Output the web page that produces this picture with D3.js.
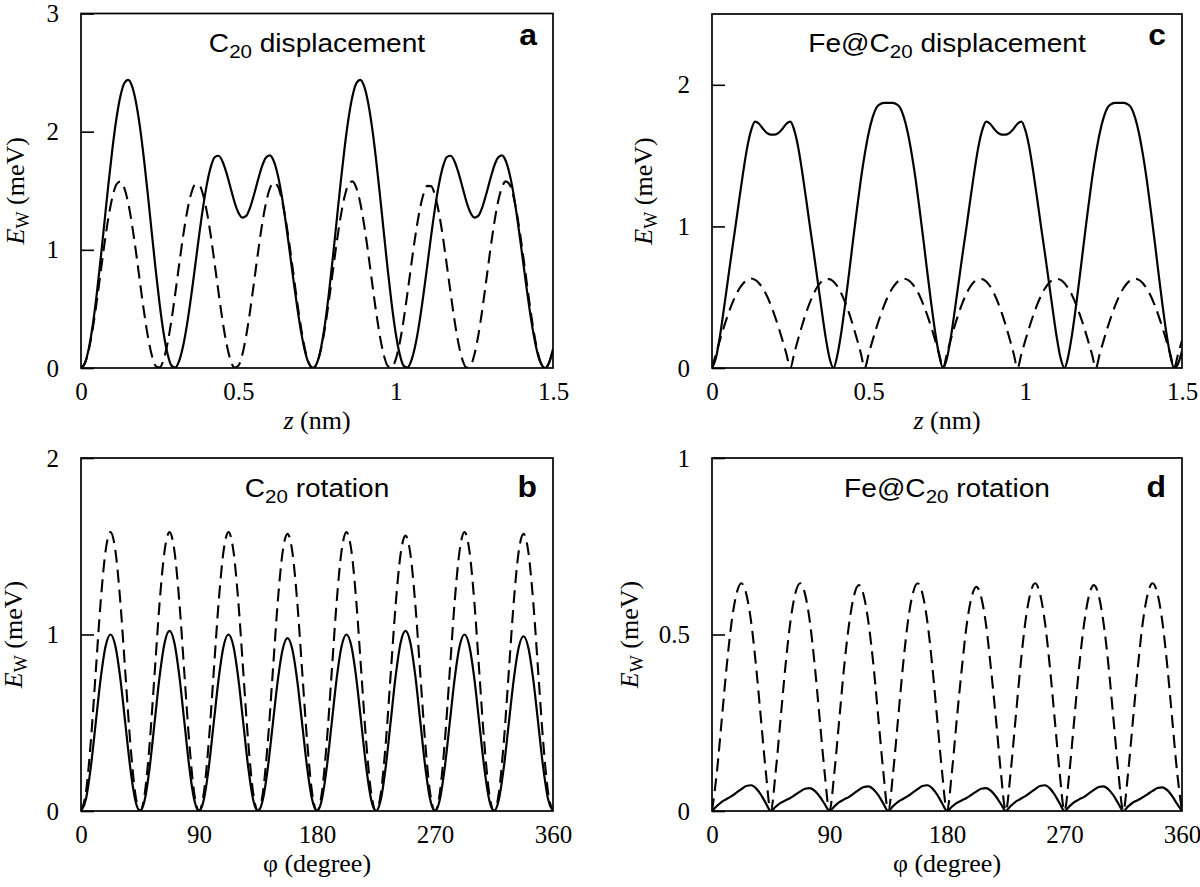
<!DOCTYPE html>
<html><head><meta charset="utf-8">
<script src="https://cdn.jsdelivr.net/npm/d3@7"></script>
<style>body{margin:0;background:#fff}</style>
</head><body>
<svg id="chart" width="1200" height="887"></svg>
<script>
// ---------- DATA ----------
const zTicks = [0, 0.5, 1, 1.5];
const zTickLabels = ["0", "0.5", "1", "1.5"];
const phiTicks = [0, 90, 180, 270, 360];
const phiTickLabels = ["0", "90", "180", "270", "360"];
const aYTicks = [0, 1, 2, 3];
const cYTicks = [0, 1, 2];
const bYTicks = [0, 1, 2];
const dYTicks = [0, 0.5, 1];
const dYTickLabels = ["0", "0.5", "1"];

// z sampling grid (nm), step 0.0125 ; phi sampling grid (degree), step 3.75
const zGrid = d3.range(121).map(i => i * 0.0125);
const phiGrid = d3.range(97).map(i => i * 3.75);

// Panel a : C20 displacement
const aSolid = [
0,0.043,0.168,0.366,0.625,0.925,1.246,1.564,1.859,2.109,
2.297,2.410,2.439,2.383,2.245,2.036,1.770,1.465,1.143,0.827,
0.538,0.296,0.120,0.020,0.004,0.064,0.192,0.378,0.606,0.858,
1.115,1.353,1.554,1.702,1.785,1.796,1.746,1.649,1.528,1.407,
1.315,1.272,1.287,1.358,1.468,1.592,1.705,1.779,1.799,1.752,
1.637,1.465,1.246,1.000,0.747,0.507,0.297,0.134,0.033,0,
0.043,0.168,0.366,0.625,0.925,1.246,1.564,1.859,2.109,2.297,
2.410,2.439,2.383,2.245,2.036,1.770,1.465,1.143,0.827,0.538,
0.296,0.120,0.020,0.004,0.064,0.192,0.378,0.606,0.858,1.115,
1.353,1.554,1.702,1.785,1.796,1.746,1.649,1.528,1.407,1.315,
1.272,1.287,1.358,1.468,1.592,1.705,1.779,1.799,1.752,1.637,
1.465,1.246,1.000,0.747,0.507,0.297,0.134,0.033,0,
0.045,0.16];
const aDashed = [
0,0.040,0.156,0.336,0.562,0.812,1.059,1.279,1.449,1.553,
1.579,1.525,1.397,1.207,0.976,0.725,0.481,0.268,0.108,0.017,
0.005,0.071,0.209,0.405,0.639,0.887,1.124,1.327,1.474,1.551,
1.549,1.470,1.321,1.117,0.879,0.631,0.398,0.204,0.068,0.004,
0.019,0.112,0.273,0.485,0.728,0.977,1.207,1.393,1.518,1.569,
1.540,1.435,1.264,1.045,0.798,0.551,0.328,0.150,0.037,0,
0.040,0.156,0.336,0.562,0.812,1.059,1.279,1.449,1.553,1.579,
1.525,1.397,1.207,0.976,0.725,0.481,0.268,0.108,0.017,
0.005,0.071,0.208,0.402,0.635,0.881,1.117,1.318,1.464,1.541,
1.539,1.461,1.313,1.110,0.873,0.627,0.395,0.202,0.067,0.004,
0.019,0.112,0.274,0.488,0.733,0.984,1.214,1.402,1.528,1.579,
1.550,1.444,1.272,1.051,0.803,0.555,0.330,0.151,0.037,0,
0.043,0.156];

// Panel c : Fe@C20 displacement
const cSolid = [
0,0.07,0.22,0.41,0.61,0.81,1.00,1.20,1.39,1.56,1.68,1.74,1.725,1.69,1.66,1.648,
1.648,1.66,1.69,1.725,1.74,1.68,1.56,1.39,1.20,1.00,0.81,0.61,0.41,0.22,0.07,0,
0.09,0.25,0.45,0.67,0.90,1.12,1.33,1.51,1.66,1.77,1.84,1.865,1.872,1.873,
1.872,1.865,1.84,1.77,1.66,1.51,1.33,1.12,0.90,0.67,0.45,0.25,0.09,0,
0.07,0.22,0.41,0.61,0.81,1.00,1.20,1.39,1.56,1.68,1.74,1.725,1.69,1.66,1.648,
1.648,1.66,1.69,1.725,1.74,1.68,1.56,1.39,1.20,1.00,0.81,0.61,0.41,0.22,0.07,0,
0.09,0.25,0.45,0.67,0.90,1.12,1.33,1.51,1.66,1.77,1.84,1.865,1.872,1.873,
1.872,1.865,1.84,1.77,1.66,1.51,1.33,1.12,0.90,0.67,0.45,0.25,0.09,0,
0.03,0.12];
const cDashed = [
0,
0.099,0.195,0.286,0.370,0.445,0.510,0.561,0.599,0.622,0.632,0.622,0.599,0.561,0.510,0.445,0.370,0.286,0.195,0.099,0,
0.104,0.205,0.300,0.387,0.463,0.527,0.577,0.611,0.628,0.628,0.611,0.577,0.527,0.463,0.387,0.300,0.205,0.104,0,
0.099,0.195,0.286,0.370,0.445,0.510,0.561,0.599,0.622,0.630,0.622,0.599,0.561,0.510,0.445,0.370,0.286,0.195,0.099,0,
0.104,0.205,0.300,0.387,0.463,0.527,0.577,0.611,0.628,0.628,0.611,0.577,0.527,0.463,0.387,0.300,0.205,0.104,0,
0.099,0.195,0.286,0.370,0.445,0.510,0.561,0.599,0.622,0.630,0.622,0.599,0.561,0.510,0.445,0.370,0.286,0.195,0.099,0,
0.099,0.195,0.286,0.370,0.445,0.510,0.561,0.599,0.622,0.630,0.622,0.599,0.561,0.510,0.445,0.370,0.286,0.195,0.099,0,
0.099,0.195];

// Panel b : C20 rotation
const bSolid = [
0,0.067,0.25,0.50,0.75,0.933,1.000,0.933,0.75,0.50,0.25,0.067,
0,0.068,0.255,0.51,0.765,0.952,1.020,0.952,0.765,0.51,0.255,0.068,
0,0.067,0.25,0.50,0.75,0.933,1.000,0.933,0.75,0.50,0.25,0.067,
0,0.066,0.245,0.49,0.735,0.914,0.980,0.914,0.735,0.49,0.245,0.066,
0,0.067,0.25,0.50,0.75,0.933,1.000,0.933,0.75,0.50,0.25,0.067,
0,0.068,0.255,0.51,0.765,0.952,1.020,0.952,0.765,0.51,0.255,0.068,
0,0.067,0.25,0.50,0.75,0.933,1.000,0.933,0.75,0.50,0.25,0.067,
0,0.066,0.248,0.495,0.742,0.924,0.990,0.924,0.742,0.495,0.248,0.066,
0];
const bDashed = [
0,0.106,0.395,0.79,1.185,1.474,1.58,1.474,1.185,0.79,0.395,0.106,
0,0.106,0.395,0.79,1.185,1.474,1.58,1.474,1.185,0.79,0.395,0.106,
0,0.106,0.395,0.79,1.185,1.474,1.58,1.474,1.185,0.79,0.395,0.106,
0,0.105,0.393,0.785,1.178,1.465,1.57,1.465,1.178,0.785,0.393,0.105,
0,0.106,0.395,0.79,1.185,1.474,1.58,1.474,1.185,0.79,0.395,0.106,
0,0.104,0.39,0.78,1.17,1.455,1.56,1.455,1.17,0.78,0.39,0.104,
0,0.106,0.395,0.79,1.185,1.474,1.58,1.474,1.185,0.79,0.395,0.106,
0,0.105,0.393,0.785,1.178,1.465,1.57,1.465,1.178,0.785,0.393,0.105,
0];

// Panel d : Fe@C20 rotation
const dSolid = [
0,0.014,0.026,0.034,0.042,0.052,0.062,0.071,0.073,0.064,0.046,0.022,
0,0.012,0.023,0.030,0.037,0.046,0.055,0.063,0.065,0.057,0.041,0.020,
0,0.013,0.025,0.033,0.040,0.050,0.060,0.068,0.070,0.061,0.044,0.021,
0,0.014,0.026,0.034,0.042,0.052,0.062,0.071,0.073,0.064,0.046,0.022,
0,0.012,0.023,0.030,0.037,0.046,0.055,0.063,0.065,0.057,0.041,0.020,
0,0.014,0.026,0.034,0.042,0.052,0.062,0.071,0.073,0.064,0.046,0.022,
0,0.013,0.025,0.033,0.040,0.050,0.060,0.068,0.070,0.061,0.044,0.021,
0,0.013,0.024,0.031,0.039,0.048,0.057,0.065,0.067,0.059,0.042,0.020,
0];
const dDashed = [
0,0.11,0.26,0.41,0.535,0.615,0.645,0.615,0.535,0.41,0.26,0.11,
0,0.11,0.26,0.41,0.535,0.615,0.645,0.615,0.535,0.41,0.26,0.11,
0,0.11,0.26,0.41,0.53,0.61,0.64,0.61,0.53,0.41,0.26,0.11,
0,0.11,0.26,0.41,0.535,0.615,0.645,0.615,0.535,0.41,0.26,0.11,
0,0.11,0.26,0.40,0.525,0.605,0.635,0.605,0.525,0.40,0.26,0.11,
0,0.11,0.26,0.41,0.535,0.615,0.645,0.615,0.535,0.41,0.26,0.11,
0,0.11,0.26,0.41,0.53,0.61,0.64,0.61,0.53,0.41,0.26,0.11,
0,0.11,0.26,0.41,0.535,0.615,0.645,0.615,0.535,0.41,0.26,0.11,
0];

// ---------- DRAWING ----------
const svg = d3.select("#chart");
const serif = "'Liberation Serif','Times New Roman',serif";
const sans = "'Liberation Sans',Arial,sans-serif";

const panels = [
  {id:"a", px:[81,553], py:[368,13.5], xDom:[0,1.5], yDom:[0,3], xTicks:zTicks, xLabels:zTickLabels,
   yTicks:aYTicks, yLabels:aYTicks.map(String), grid:zGrid, solid:aSolid, dashed:aDashed,
   tPre:"C", tPost:" displacement", letter:"a", titleY:52, letterY:45, xTitle:"z", ylabX:24},
  {id:"c", px:[712,1182], py:[368,14], xDom:[0,1.5], yDom:[0,2.5], xTicks:zTicks, xLabels:zTickLabels,
   yTicks:cYTicks, yLabels:cYTicks.map(String), grid:zGrid, solid:cSolid, dashed:cDashed,
   tPre:"Fe@C", tPost:" displacement", letter:"c", titleY:52, letterY:45, xTitle:"z", ylabX:652},
  {id:"b", px:[81,553], py:[811,458], xDom:[0,360], yDom:[0,2], xTicks:phiTicks, xLabels:phiTickLabels,
   yTicks:bYTicks, yLabels:bYTicks.map(String), grid:phiGrid, solid:bSolid, dashed:bDashed,
   tPre:"C", tPost:" rotation", letter:"b", titleY:497, letterY:497, xTitle:"phi", ylabX:22},
  {id:"d", px:[712,1182], py:[811,458], xDom:[0,360], yDom:[0,1], xTicks:phiTicks, xLabels:phiTickLabels,
   yTicks:dYTicks, yLabels:dYTickLabels, grid:phiGrid, solid:dSolid, dashed:dDashed,
   tPre:"Fe@C", tPost:" rotation", letter:"d", titleY:497, letterY:497, xTitle:"phi", ylabX:638}
];

panels.forEach(p => {
  const x = d3.scaleLinear().domain(p.xDom).range(p.px);
  const y = d3.scaleLinear().domain(p.yDom).range(p.py);
  const g = svg.append("g");

  g.append("clipPath").attr("id", "clip-" + p.id)
    .append("rect").attr("x", p.px[0]).attr("y", p.py[1])
    .attr("width", p.px[1] - p.px[0]).attr("height", p.py[0] - p.py[1]);

  const line = d3.line().x((d, i) => x(p.grid[i])).y(d => y(d)).curve(d3.curveMonotoneX);

  const curves = g.append("g").attr("clip-path", `url(#clip-${p.id})`);
  curves.append("path").datum(p.dashed).attr("d", line)
    .attr("fill", "none").attr("stroke", "#000").attr("stroke-width", 2.1)
    .attr("stroke-dasharray", "13,7");
  curves.append("path").datum(p.solid).attr("d", line)
    .attr("fill", "none").attr("stroke", "#000").attr("stroke-width", 2.2);

  // y axis (inward ticks)
  const yAxis = d3.axisLeft(y).tickValues(p.yTicks)
    .tickFormat((d, i) => p.yLabels[i]).tickSizeInner(-13).tickSizeOuter(0).tickPadding(22);
  const ya = g.append("g").attr("transform", `translate(${p.px[0]},0)`).call(yAxis);
  ya.select(".domain").remove();
  ya.selectAll("line").attr("stroke", "#000").attr("stroke-width", 1.6);
  ya.selectAll("text").attr("font-family", serif).attr("font-size", 25).attr("fill", "#000");

  // x axis (labels only)
  const xAxis = d3.axisBottom(x).tickValues(p.xTicks)
    .tickFormat((d, i) => p.xLabels[i]).tickSize(0).tickPadding(14);
  const xa = g.append("g").attr("transform", `translate(0,${p.py[0]})`).call(xAxis);
  xa.select(".domain").remove();
  xa.selectAll("text").attr("font-family", serif).attr("font-size", 25).attr("fill", "#000");

  // frame
  g.append("rect").attr("x", p.px[0]).attr("y", p.py[1])
    .attr("width", p.px[1] - p.px[0]).attr("height", p.py[0] - p.py[1])
    .attr("fill", "none").attr("stroke", "#000").attr("stroke-width", 1.7);

  const cx = (p.px[0] + p.px[1]) / 2;

  // title (slightly wide face, as in the original)
  const t = g.append("text").attr("transform", `translate(${cx},${p.titleY}) scale(1.08,1)`)
    .attr("text-anchor", "middle")
    .attr("font-family", sans).attr("font-size", 26).attr("fill", "#000");
  t.append("tspan").text(p.tPre);
  t.append("tspan").attr("font-size", 19).attr("dy", 6).text("20");
  t.append("tspan").attr("dy", -6).text(p.tPost);

  // panel letter
  g.append("text").attr("transform", `translate(${p.px[1] - 16},${p.letterY}) scale(1.1,1)`)
    .attr("text-anchor", "end")
    .attr("font-family", sans).attr("font-weight", "bold").attr("font-size", 29).attr("fill", "#000")
    .text(p.letter);

  // x title
  const xt = g.append("text").attr("x", cx).attr("y", p.py[0] + 61).attr("text-anchor", "middle")
    .attr("font-family", serif).attr("font-size", 26).attr("fill", "#000");
  if (p.xTitle === "z") {
    xt.append("tspan").attr("font-style", "italic").text("z");
    xt.append("tspan").text(" (nm)");
  } else {
    xt.append("tspan").text("\u03C6 (degree)");
  }

  // y title
  const cy = (p.py[0] + p.py[1]) / 2;
  const yt = g.append("text").attr("transform", `translate(${p.ylabX},${cy}) rotate(-90)`)
    .attr("text-anchor", "middle").attr("font-family", serif).attr("font-size", 26).attr("fill", "#000");
  yt.append("tspan").attr("font-style", "italic").text("E");
  yt.append("tspan").attr("font-size", 18).attr("dy", 5).text("W");
  yt.append("tspan").attr("dy", -5).text(" (meV)");
});
</script>
</body></html>
